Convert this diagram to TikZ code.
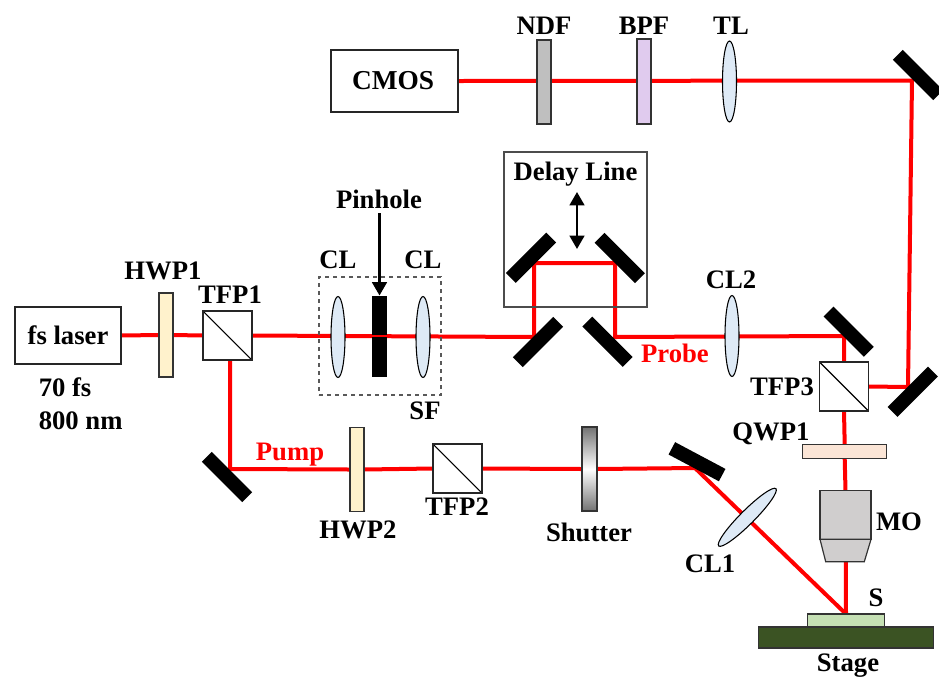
\documentclass[tikz,border=0pt]{standalone}
\usepackage{fontspec}
\setmainfont{Liberation Serif}
\usetikzlibrary{shapes.geometric,arrows.meta,backgrounds}
\tikzset{
  size/.style 2 args={minimum width=#1*0.75pt,minimum height=#2*0.75pt,inner sep=0pt,outer sep=0pt},
  lab/.style={font=\fontsize{20}{25}\selectfont\bfseries,inner sep=0pt,text=black},
  redlab/.style={lab,text=red},
  boxed/.style 2 args={size={#1}{#2},draw=black!85,line width=0.8pt,fill=white,font=\fontsize{20}{25}\selectfont\bfseries},
  plate/.style 2 args={size={#1}{#2},draw=black!80,line width=0.9pt},
  cube/.style={size={49}{49},draw=black!85,line width=0.9pt,fill=white,
    path picture={\draw[line width=0.8pt,black] (path picture bounding box.north west)--(path picture bounding box.south east);}},
  lens/.style={ellipse,size={14}{81},draw=black,line width=0.8pt,fill=lensblue},
  mirror/.style={size={57}{14},fill=black,draw=none},
  beam/.style={draw=red,line width=3pt,line join=miter},
  pointer/.style={line width=1.8pt,black},
}
\definecolor{lensblue}{HTML}{DEEAF6}
\definecolor{hwpc}{HTML}{FFF2CC}
\definecolor{ndfc}{HTML}{BFBFBF}
\definecolor{bpfc}{HTML}{E0CBEE}
\definecolor{qwpc}{HTML}{FBE5D6}
\definecolor{moc}{HTML}{D0CECE}
\definecolor{samplec}{HTML}{C5E0B4}
\definecolor{stagec}{HTML}{3B5323}
\begin{document}
\begin{tikzpicture}[x=0.75pt,y=-0.75pt]
\useasboundingbox (0,0) rectangle (939,676);
% boxes
\node[boxed={106}{57}] (laser) at (68,335.5) {fs laser};
\node[boxed={127}{62}] (cmos) at (394.5,81) {\raisebox{-1pt}{\hspace{-2pt}\fontsize{20.5}{25}\selectfont CMOS}};
\node[size={143}{155},draw=black!70,line width=0.9pt] (delay) at (575.5,229.5) {};
\node[size={122}{118},draw=black!65,line width=0.9pt,dashed,dash pattern=on 3pt off 3pt] (sf) at (380,336) {};
% plates and cubes
\node[plate={14}{84},fill=hwpc] (hwp1) at (166,335) {};
\node[cube] (tfp1) at (227.5,335.5) {};
\node[lens] (cla) at (338,337) {};
\node[size={15}{81},fill=black] (ph) at (379.5,336) {};
\node[lens] (clb) at (423,337) {};
\node[plate={14}{84},fill=hwpc] (hwp2) at (357,469.5) {};
\node[cube] (tfp2) at (457.5,468.5) {};
\node[plate={15}{84},top color=black!55,bottom color=black!55,middle color=white] (shutter) at (589.5,469) {};
\node[lens,rotate=-45] (cl1) at (747.3,517.3) {};
\node[lens] (cl2) at (732,336) {};
\node[lens] (tl) at (729.5,81.5) {};
\node[plate={14}{84},fill=ndfc] (ndf) at (544,82) {};
\node[plate={14}{85},fill=bpfc] (bpf) at (644,81.5) {};
\node[cube] (tfp3) at (844,386.5) {};
\node[plate={84}{14},fill=qwpc] (qwp) at (844.7,451.3) {};
\node[plate={51}{48.6},fill=moc] (mo) at (845.5,515) {};
\coordinate (tipl) at (825.7,561.7);
\coordinate (tipr) at (864.3,561.7);
\draw[fill=moc,draw=black!80,line width=0.9pt] (mo.south west)--(mo.south east)--(tipr)--(tipl)--cycle;
\coordinate (tip) at (845.8,561.7);
\node[plate={77}{13},fill=samplec] (sample) at (846.2,620.5) {};
\node[plate={174.6}{21},fill=stagec] (stage) at (846,637.5) {};
% mirrors
\node[mirror,rotate=-45] (m1) at (227,477) {};
\node[mirror,rotate=-28] (m2) at (697,461.7) {};
\node[mirror,rotate=45] (m3) at (538,342) {};
\node[mirror,rotate=45] (m4) at (531,257.7) {};
\node[mirror,rotate=-45] (m5) at (619.7,258) {};
\node[mirror,rotate=-45] (m6) at (607.5,341.7) {};
\node[mirror,rotate=-45] (m7) at (848.7,331.7) {};
\node[mirror,rotate=45] (m8) at (912.7,391.7) {};
\node[mirror,rotate=-45] (m9) at (918,75) {};
% beam hit points
\coordinate (h1) at (230,469);
\coordinate (h2) at (695,468);
\coordinate (h3) at (534,337);
\coordinate (h4) at (534,263);
\coordinate (h5) at (615,263);
\coordinate (h6) at (615,337);
\coordinate (h7) at (844,336);
\coordinate (h8) at (908,387);
\coordinate (h9) at (912,80.5);
\coordinate (hs) at (846,614);
\coordinate (tfp1out) at (230,360);
\begin{scope}[on background layer]
\fill[white] (0,0) rectangle (939,676);
\draw[beam] (laser.east) -- (hwp1.west);
\draw[beam] (hwp1.east) -- (tfp1.west);
\draw[beam] (tfp1.east) -- (h3) -- (h4) -- (h5) -- (h6) -- (h7) -- (tfp3.north);
\draw[beam] (tfp3.east) -- (h8) -- (h9) -- (cmos.east);
\draw[beam] (tfp1out) -- (h1) -- (hwp2.west);
\draw[beam] (hwp2.east) -- (tfp2.west);
\draw[beam] (tfp2.east) -- (shutter.west);
\draw[beam] (shutter.east) -- (h2) -- (hs);
\draw[beam] (tfp3.south) -- (qwp.north);
\draw[beam] (qwp.south) -- (mo.north);
\draw[beam] (tip) -- (hs);
\end{scope}
\draw[red,line width=0.8pt] (ph.west) -- (ph.east);
% arrows
\coordinate (pinfrom) at (379.5,213);
\draw[pointer,-{Stealth[length=10pt,width=11pt,inset=0pt]}] (pinfrom) -- (ph.north);
\coordinate (du) at (577,192);
\coordinate (dd) at (577,249);
\draw[pointer,{Stealth[length=10pt,width=11pt,inset=0pt]}-{Stealth[length=10pt,width=11pt,inset=0pt]}] (du) -- (dd);
% labels
\node[lab] (lhwp1) at (163,271) {HWP1};
\node[lab] (ltfp1) at (230,295) {TFP1};
\node[lab,anchor=west,align=left] (lfs) at (38.5,404) {70 fs\\800 nm};
\node[lab] (lcla) at (338,260) {CL};
\node[lab] (lclb) at (423,260) {CL};
\node[lab] (lpin) at (379,199) {Pinhole};
\node[lab] (lsf) at (425,411) {SF};
\node[lab] (ldelay) at (575.5,174.5) {Delay Line};
\node[redlab] (lprobe) at (675,353.5) {Probe};
\node[redlab] (lpump) at (290,455) {Pump};
\node[lab] (lcl2) at (731,280) {CL2};
\node[lab] (ltfp3) at (782,387) {TFP3};
\node[lab] (lqwp) at (771,434) {QWP1};
\node[lab] (lmo) at (899,522) {MO};
\node[lab] (lcl1) at (710,564) {CL1};
\node[lab] (ls) at (876,598) {S};
\node[lab] (lstage) at (848,666) {Stage};
\node[lab] (lhwp2) at (358,530) {HWP2};
\node[lab] (ltfp2) at (457,507) {TFP2};
\node[lab] (lshut) at (589,532) {Shutter};
\node[lab] (lndf) at (544,26) {NDF};
\node[lab] (lbpf) at (644,26) {BPF};
\node[lab] (ltl) at (731,26) {TL};
\end{tikzpicture}
\end{document}
